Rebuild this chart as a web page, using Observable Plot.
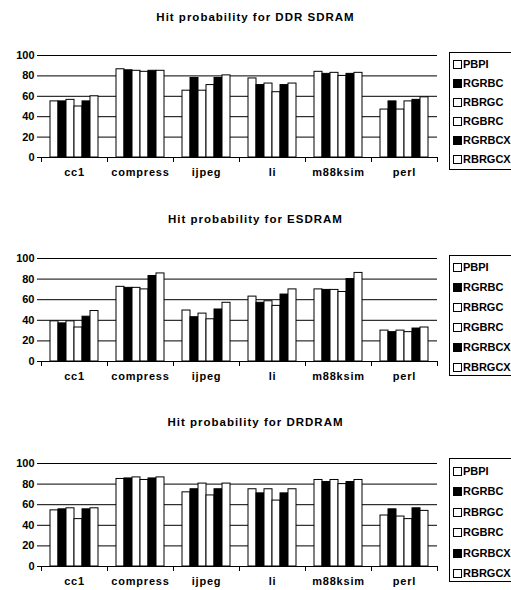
<!DOCTYPE html>
<html>
<head>
<meta charset="utf-8">
<script src="https://cdn.jsdelivr.net/npm/d3@7"></script>
<script src="https://cdn.jsdelivr.net/npm/@observablehq/plot@0.6"></script>
<style>
  body { margin: 0; background: #fff; font-family: "Liberation Sans", Arial, sans-serif; }
  #root { position: relative; width: 511px; height: 590px; overflow: hidden; background: #fff; }
  .title { position: absolute; left: 0; width: 511px; text-align: center; font-weight: bold; font-size: 11.5px; letter-spacing: 1px; line-height: 14px; color: #000; }
  .chart { position: absolute; left: 0; }
  .legend { position: absolute; left: 449px; width: 90px; border: 1px solid #000; box-sizing: border-box; background: #fff; }
  .legend .row { position: absolute; left: 0; font-weight: bold; font-size: 11px; line-height: 12px; white-space: nowrap; color: #000; }
  .legend .sw { position: absolute; left: 3px; top: 2px; width: 7px; height: 7px; border: 1px solid #000; }
  .legend .lab { position: absolute; left: 13px; top: 0; }
  g[aria-label="fx-axis tick label"] text { letter-spacing: 0.8px; }
</style>
</head>
<body>
<div id="root"></div>
<script>
const categories = ["cc1", "compress", "ijpeg", "li", "m88ksim", "perl"];
const seriesNames = ["PBPI", "RGRBC", "RBRGC", "RGBRC", "RGRBCX", "RBRGCX"];
const seriesFill = ["#fff", "#000", "#fff", "#fff", "#000", "#fff"];
const yTicks = [0, 20, 40, 60, 80, 100];

// Hit probability for DDR SDRAM (values per category)
const ddrPBPI   = [55, 86.5, 65.5, 77.5, 84, 47];
const ddrRGRBC  = [55, 85.5, 78, 71, 82, 55];
const ddrRBRGC  = [56.5, 85, 65.5, 72.5, 83, 47];
const ddrRGBRC  = [50, 84, 71, 64, 80, 55];
const ddrRGRBCX = [55, 85, 78, 71, 82, 56.5];
const ddrRBRGCX = [60, 85, 80.5, 72.5, 83, 59];

// Hit probability for ESDRAM
const esPBPI   = [39, 72.5, 49.5, 63, 70, 30];
const esRGRBC  = [37, 71.5, 43, 57, 69.5, 28.5];
const esRBRGC  = [39, 71.5, 46.5, 58.5, 69.5, 30];
const esRGBRC  = [33, 70, 41, 54, 67.5, 28.5];
const esRGRBCX = [43.5, 83, 50.5, 65, 80, 32];
const esRBRGCX = [49, 85.5, 57, 70, 86, 33];

// Hit probability for DRDRAM
const drPBPI   = [54.5, 85, 72, 75, 84, 49.5];
const drRGRBC  = [55.5, 85.5, 75, 71, 82, 55.5];
const drRBRGC  = [56.5, 86.5, 80.5, 75, 84, 48.5];
const drRGBRC  = [46, 84, 69, 64, 80, 46];
const drRGRBCX = [55.5, 85.5, 75, 71, 82, 56.5];
const drRBRGCX = [56.5, 86.5, 80.5, 75, 84, 54];

const panels = [
  {title: "Hit probability for DDR SDRAM", series: [ddrPBPI, ddrRGRBC, ddrRBRGC, ddrRGBRC, ddrRGRBCX, ddrRBRGCX],
   titleTop: 10, svgTop: 45, plotH: 102, marginBottom: 30, legendTop: 52, legendH: 118, rowTop: 57, rowStep: 19},
  {title: "Hit probability for ESDRAM", series: [esPBPI, esRGRBC, esRBRGC, esRGBRC, esRGRBCX, esRBRGCX],
   titleTop: 212, svgTop: 248, plotH: 103, marginBottom: 30, legendTop: 255, legendH: 121, rowTop: 260, rowStep: 20},
  {title: "Hit probability for DRDRAM", series: [drPBPI, drRGRBC, drRBRGC, drRGBRC, drRGRBCX, drRBRGCX],
   titleTop: 415, svgTop: 453, plotH: 103, marginBottom: 24, legendTop: 458, legendH: 124, rowTop: 464, rowStep: 20.4}
];

const root = document.getElementById("root");

for (const p of panels) {
  const rows = [];
  categories.forEach((c, ci) => seriesNames.forEach((s, si) => rows.push({category: c, series: s, value: p.series[si][ci]})));

  const t = document.createElement("div");
  t.className = "title";
  t.style.top = p.titleTop + "px";
  t.textContent = p.title;
  root.appendChild(t);

  const marginTop = 10;
  const chart = Plot.plot({
    width: 447,
    height: marginTop + p.plotH + p.marginBottom,
    marginLeft: 40,
    marginRight: 10,
    marginTop,
    marginBottom: p.marginBottom,
    fx: {domain: categories, padding: 0, label: null},
    x: {domain: seriesNames, paddingInner: 0, paddingOuter: 0.68, axis: null},
    y: {domain: [0, 100], label: null, axis: null},
    color: {domain: seriesNames, range: seriesFill},
    style: {fontFamily: "'Liberation Sans', Arial, sans-serif", fontSize: "11px", fontWeight: "bold", color: "#000", background: "transparent", overflow: "visible"},
    marks: [
      Plot.ruleY([20, 40, 60, 80, 100], {stroke: "#000", strokeOpacity: 1}),
      Plot.barY(rows, {fx: "category", x: "series", y: "value", fill: "series", stroke: "#000", strokeWidth: 1}),
      Plot.ruleY([0], {stroke: "#000"}),
      Plot.axisY({anchor: "left", ticks: yTicks, tickSize: 4, tickPadding: 3, line: true, label: null, stroke: "#000", fill: "#000"}),
      Plot.axisY({anchor: "right", ticks: [], line: true, label: null, stroke: "#000"}),
      Plot.axisFx({anchor: "bottom", tickSize: 0, tickPadding: 11, label: null, fill: "#000"}),
      Plot.frame({anchor: "left", insetTop: p.plotH, insetBottom: -4, stroke: "#000"}),
      Plot.frame({anchor: "right", insetTop: p.plotH, insetBottom: -4, stroke: "#000"})
    ]
  });
  chart.classList.add("chart");
  chart.style.top = p.svgTop + "px";
  root.appendChild(chart);

  const lg = document.createElement("div");
  lg.className = "legend";
  lg.style.top = p.legendTop + "px";
  lg.style.height = p.legendH + "px";
  seriesNames.forEach((s, i) => {
    const r = document.createElement("div");
    r.className = "row";
    r.style.top = (p.rowTop - p.legendTop + i * p.rowStep) + "px";
    const sw = document.createElement("div");
    sw.className = "sw";
    sw.style.background = seriesFill[i];
    const lab = document.createElement("div");
    lab.className = "lab";
    lab.textContent = s;
    r.appendChild(sw);
    r.appendChild(lab);
    lg.appendChild(r);
  });
  root.appendChild(lg);
}
</script>
</body>
</html>
